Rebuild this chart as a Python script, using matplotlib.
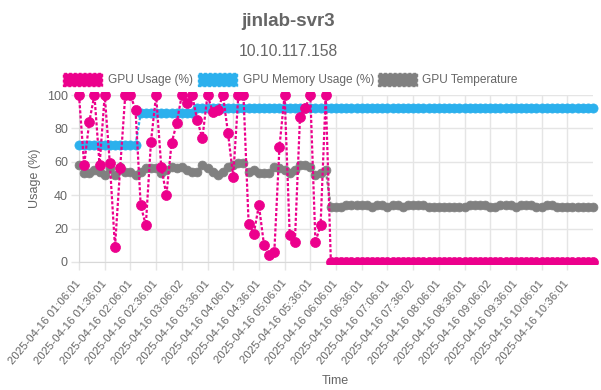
import numpy as np
import matplotlib
matplotlib.use('Agg')
import matplotlib.pyplot as plt
from matplotlib.patches import Rectangle
from matplotlib.transforms import Bbox, TransformedBbox

plt.rcParams['font.family'] = ['Liberation Sans', 'DejaVu Sans']

# data (one sample every ~6 min, 101 samples)
gpu_usage = [100, 58, 84, 100, 58, 100, 59, 9, 56, 100,
             100, 91, 34, 22, 72, 100, 57, 40, 71, 83,
             100, 95, 100, 85, 74, 100, 90, 91, 100, 77,
             51, 100, 100, 23, 17, 34, 10, 4, 6, 69,
             100, 16, 12, 87, 92, 100, 12, 22, 100] + [0] * 52

gpu_mem = [70] * 12 + [89] * 11 + [92] * 78

gpu_temp = [58, 53, 53, 55, 54, 52, 56, 52, 57, 54,
            54, 52, 54, 56, 56, 56, 53, 55, 57, 56,
            57, 55, 54, 54, 58, 56, 54, 52, 54, 57,
            58, 59, 59, 54, 55, 53, 53, 53, 57, 56,
            55, 53, 55, 58, 58, 57, 52, 53, 55,
            33, 33, 33, 34, 34, 34, 34, 34, 33, 34,
            34, 33, 34, 34, 33, 34, 34, 34, 34, 33,
            33, 33, 33, 33, 33, 33, 33, 34, 34, 34,
            34, 33, 33, 34, 34, 34, 33, 34, 34, 34,
            33, 33, 34, 34, 33, 33, 33, 33, 33, 33,
            33, 33]

tick_labels = ['2025-04-16 01:06:01', '2025-04-16 01:36:01', '2025-04-16 02:06:01',
               '2025-04-16 02:36:01', '2025-04-16 03:06:02', '2025-04-16 03:36:01',
               '2025-04-16 04:06:01', '2025-04-16 04:36:01', '2025-04-16 05:06:01',
               '2025-04-16 05:36:01', '2025-04-16 06:06:01', '2025-04-16 06:36:01',
               '2025-04-16 07:06:01', '2025-04-16 07:36:02', '2025-04-16 08:06:01',
               '2025-04-16 08:36:01', '2025-04-16 09:06:02', '2025-04-16 09:36:01',
               '2025-04-16 10:06:01', '2025-04-16 10:36:01']
tick_step = 5

series_names = ['GPU Usage (%)', 'GPU Memory Usage (%)', 'GPU Temperature']
colors = ['#ec008c', '#2bb0ed', '#808080']

W, H = 601, 390
TXT = '#666666'
GRID = '#e5e5e5'


def fx(px):
    return px / W


def fy(py):
    return 1 - py / H


fig = plt.figure(figsize=(W / 100, H / 100), dpi=100)
ax = fig.add_axes([fx(79), fy(262), (593 - 79) / W, (262 - 95) / H])

x = np.arange(len(gpu_usage))
clip = TransformedBbox(Bbox.from_extents(-0.012, -0.01, 1.012, 1.02), ax.transAxes)

series = [gpu_usage, gpu_mem, gpu_temp]
sizes = [7.2, 6.6, 6.4]
for i, (vals, col, ms) in enumerate(zip(series, colors, sizes)):
    ln, = ax.plot(x, vals, color=col, lw=1.6, ls=(0, (1.4, 0.9)),
                  marker='o', ms=ms, mec=col, mfc=col, mew=0.5,
                  zorder=5 - i)
    ln.set_clip_box(clip)

ax.set_xlim(0, len(gpu_usage) - 1)
ax.set_ylim(0, 100)
ax.set_yticks(range(0, 101, 20))
ax.set_xticks(x[::tick_step][:len(tick_labels)])
ax.set_xticklabels(tick_labels, rotation=50, ha='right', rotation_mode='anchor',
                   va='center')
ax.grid(True, color=GRID, lw=1)
ax.set_axisbelow(True)
for s in ['top', 'right']:
    ax.spines[s].set_visible(False)
for s in ['left', 'bottom']:
    ax.spines[s].set_color('#d8d8d8')
ax.tick_params(axis='y', length=6, width=1, color=GRID, labelcolor=TXT,
               labelsize=9, pad=2)
ax.tick_params(axis='x', length=6, width=1, color=GRID, labelcolor=TXT,
               labelsize=8.2, pad=8)

# titles / axis labels
fig.text(fx(288), fy(22), 'jinlab-svr3', ha='center', va='center',
         fontsize=13.5, fontweight='bold', color=TXT)
fig.text(fx(288), fy(52), '10.10.117.158', ha='center', va='center',
         fontsize=11.3, color=TXT)
fig.text(fx(35), fy(178.5), 'Usage (%)', ha='center', va='center',
         rotation=90, fontsize=9, color=TXT)
fig.text(fx(335), fy(381), 'Time', ha='center', va='center',
         fontsize=9, color=TXT)

# legend (drawn by hand, chart.js style)
box_x = [63, 197.5, 377.5]
txt_x = [107.5, 243, 422]
for bx, tx, name, col in zip(box_x, txt_x, series_names, colors):
    fig.add_artist(Rectangle((fx(bx), fy(86)), 39 / W, 13.3 / H,
                             transform=fig.transFigure, facecolor=col,
                             edgecolor=col, lw=1, ls=(0, (2, 1.5))))
    fig.text(fx(tx), fy(80), name, ha='left', va='center', fontsize=8.6,
             color=TXT)

fig.savefig('out.png', dpi=100)
